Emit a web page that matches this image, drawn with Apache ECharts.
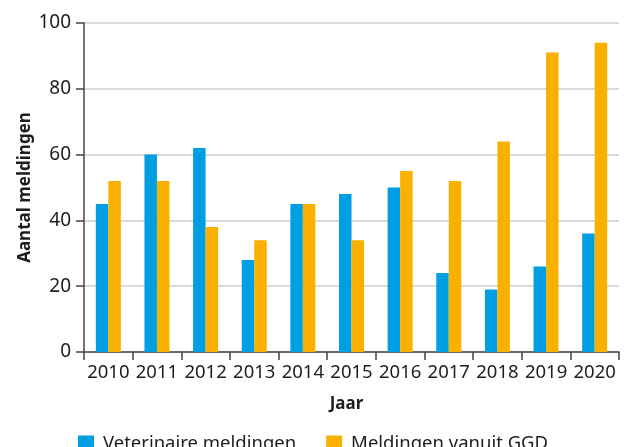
<!DOCTYPE html>
<html>
<head>
<meta charset="utf-8">
<title>Meldingen per jaar</title>
<script src="https://cdn.jsdelivr.net/npm/echarts@6/dist/echarts.min.js"></script>
<style>
  html, body { margin: 0; padding: 0; background: #fff; }
  #chart { width: 628px; height: 447px; }
</style>
</head>
<body>
<div id="chart"></div>
<script>
// data
const years = ['2010', '2011', '2012', '2013', '2014', '2015', '2016', '2017', '2018', '2019', '2020'];
const veterinair = [45, 60, 62, 28, 45, 48, 50, 24, 19, 26, 36];
const ggd = [52, 52, 38, 34, 45, 34, 55, 52, 64, 91, 94];
const seriesNames = ['Veterinaire meldingen', 'Meldingen vanuit GGD'];

const font = '"Noto Sans", "Open Sans", sans-serif';
const textColor = '#1d1d1b';

const chart = echarts.init(document.getElementById('chart'));
chart.setOption({
    animation: false,
    textStyle: { fontFamily: font, color: textColor },
    grid: { left: 84, right: 9, top: 23, bottom: 95 },
    legend: {
        left: 73,
        top: 429,
        itemWidth: 16,
        itemHeight: 16,
        itemGap: 30,
        icon: 'rect',
        textStyle: { fontSize: 18.5, color: textColor, fontFamily: font, padding: [0, 0, 0, 4] },
        data: seriesNames
    },
    xAxis: {
        type: 'category',
        data: years,
        name: 'Jaar',
        nameLocation: 'middle',
        nameGap: 44,
        nameTextStyle: { fontSize: 17, fontWeight: 'bold', color: textColor, padding: [0, 10, 0, 0] },
        axisLine: { lineStyle: { color: '#444', width: 1.5 } },
        axisTick: { show: true, length: 8, lineStyle: { color: '#444', width: 1.5 } },
        axisLabel: { interval: 0, fontSize: 18.5, color: textColor, margin: 11 }
    },
    yAxis: {
        type: 'value',
        min: 0,
        max: 100,
        interval: 20,
        name: 'Aantal meldingen',
        nameLocation: 'middle',
        nameGap: 50,
        nameMoveOverlap: false,
        nameTextStyle: { fontSize: 17, fontWeight: 'bold', color: textColor },
        axisLine: { show: true, lineStyle: { color: '#444', width: 1.5 } },
        axisTick: { show: true, length: 8, lineStyle: { color: '#444', width: 1.5 } },
        axisLabel: { fontSize: 19, color: textColor, margin: 13 },
        splitLine: { lineStyle: { color: '#cccccc', width: 1.5 } }
    },
    series: [
        {
            name: seriesNames[0],
            type: 'bar',
            data: veterinair,
            barWidth: 12.5,
            barGap: '0%',
            itemStyle: { color: '#009fe3' }
        },
        {
            name: seriesNames[1],
            type: 'bar',
            data: ggd,
            barWidth: 12.5,
            barGap: '0%',
            itemStyle: { color: '#f9b000' }
        }
    ]
});
</script>
</body>
</html>
